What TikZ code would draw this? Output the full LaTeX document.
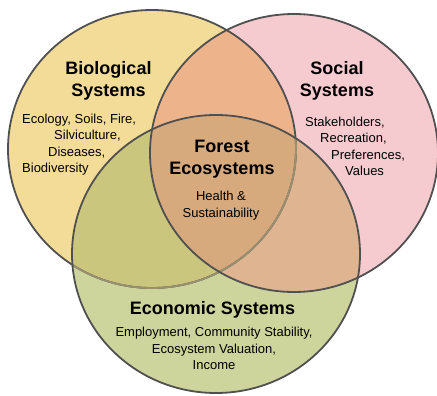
\documentclass[tikz,border=0pt]{standalone}
\usepackage{fontspec}
\setmainfont{Liberation Sans}
\definecolor{bioyellow}{HTML}{F3DC98}
\definecolor{socpink}{HTML}{F6CBD0}
\definecolor{ecogreen}{HTML}{CDD59C}
\definecolor{biosoc}{HTML}{EDB48C}
\definecolor{bioeco}{HTML}{CBC67D}
\definecolor{soceco}{HTML}{DEB491}
\definecolor{forestcore}{HTML}{D6AA7D}
\definecolor{ringgrey}{HTML}{505050}
\definecolor{fadeline}{HTML}{9A9070}

\begin{document}
\begin{tikzpicture}[x=1pt,y=-1pt,
  blob/.style={x radius=144,y radius=139},
  ring/.style={draw=ringgrey,line width=1.8pt},
  head/.style={font=\fontsize{18}{22}\selectfont\bfseries,align=center,inner sep=0pt},
  body/.style={font=\fontsize{13}{16.5}\selectfont,inner sep=0pt}]
\useasboundingbox (0,0) rectangle (437,396);
\coordinate (bio) at (152,149);
\coordinate (soc) at (294,153);
\coordinate (eco) at (216,254);
% the three systems
\fill[bioyellow] (bio) ellipse [blob];
\fill[socpink] (soc) ellipse [blob];
\fill[ecogreen] (eco) ellipse [blob];
% overlaps
\begin{scope}
\clip (soc) ellipse [blob];
\fill[soceco] (eco) ellipse [blob];
\end{scope}
\begin{scope}
\clip (bio) ellipse [blob];
\fill[biosoc] (soc) ellipse [blob];
\fill[bioeco] (eco) ellipse [blob];
\clip (soc) ellipse [blob];
\fill[forestcore] (eco) ellipse [blob];
\end{scope}
% outlines
\draw[ring] (bio) ellipse [blob];
\begin{scope}
\clip (eco) ellipse [blob];
\draw[ring,draw=fadeline] (bio) ellipse [blob];
\end{scope}
\draw[ring] (soc) ellipse [blob];
\draw[ring] (eco) ellipse [blob];
% labels
\node[head] (biohead) at (108.5,81.3) {Biological\\Systems};
\node[body,align=left,anchor=west] (biotext) at (22,144.6) {Ecology, Soils, Fire,\\\hspace*{32pt}Silviculture,\\\hspace*{26pt}Diseases,\\Biodiversity};
\node[head] (sochead) at (337,81.3) {Social\\Systems};
\node[body,align=left,anchor=west] (soctext) at (305,146.4) {Stakeholders,\\\hspace*{15pt}Recreation,\\\hspace*{26pt}Preferences,\\\hspace*{40pt}Values};
\node[head] (forhead) at (222,159.4) {Forest\\Ecosystems};
\node[body,align=center] (fortext) at (221,205.6) {Health \&\\Sustainability};
\node[head,anchor=base] (ecohead) at (212.5,314) {Economic Systems};
\node[body,align=center] (ecotext) at (214,348.4) {Employment, Community Stability,\\Ecosystem Valuation,\\Income};
\end{tikzpicture}
\end{document}
